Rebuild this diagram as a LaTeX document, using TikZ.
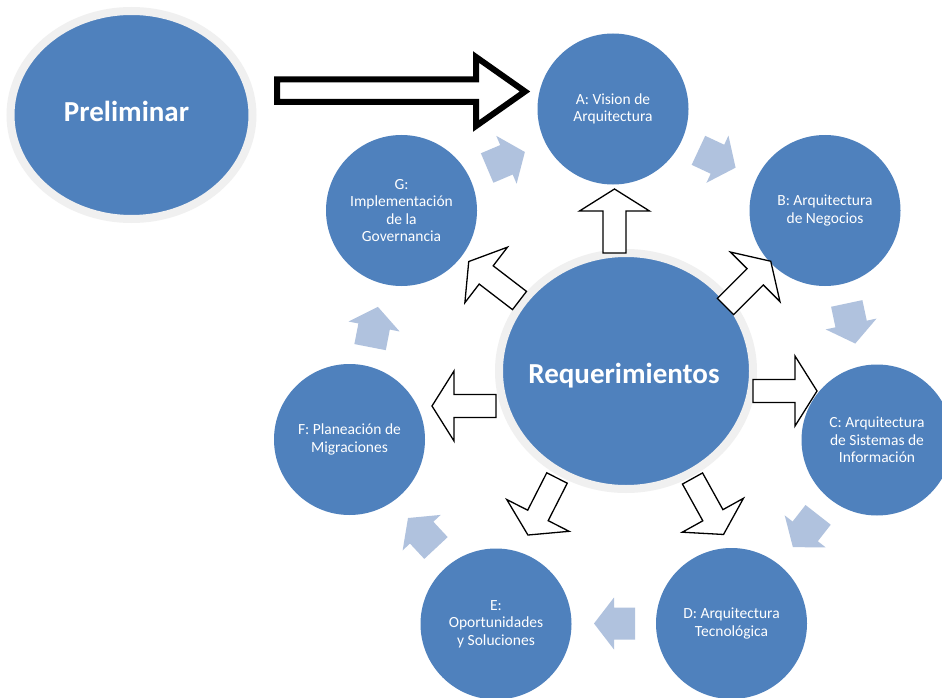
\documentclass[tikz,border=0pt]{standalone}
\usepackage{fontspec}
\setmainfont{Carlito}
\usetikzlibrary{shapes.geometric}
\definecolor{phaseblue}{HTML}{4F81BD}
\definecolor{ringgray}{HTML}{F0F0F0}
\definecolor{lightblue}{HTML}{B0C2DE}
\begin{document}
\begin{tikzpicture}[x=1pt,y=-1pt,
  phase/.style={circle, fill=phaseblue, minimum size=151pt, inner sep=0pt, text=white, align=center, font=\fontsize{15.5}{17.6}\selectfont},
  hub/.style={ellipse, fill=phaseblue, draw=ringgray, line width=8pt, inner sep=0pt},
  hubtext/.style={text=white, inner sep=0pt, font=\fontsize{29}{34}\selectfont\bfseries},
  lightarr/.pic={\fill[lightblue] (-20.5,-16) -- (0.5,-16) -- (0.5,-26) -- (20.5,0) -- (0.5,26) -- (0.5,16) -- (-20.5,16) -- cycle;},
  outarr/.pic={\filldraw[fill=white, draw=black, line width=1.3pt, line join=miter] (0,-11.5) -- (42,-11.5) -- (42,-35) -- (64,0) -- (42,35) -- (42,11.5) -- (0,11.5) -- cycle;}
]
\useasboundingbox (0,0) rectangle (942,698);
\clip (0,0) rectangle (942,698);
\fill[white] (0,0) rectangle (942,698);

% phases
\node[phase] (A) at (613,109) {A: Vision de\\Arquitectura};
\node[phase] (B) at (825,210.5) {B: Arquitectura\\de Negocios};
\node[phase] (C) at (877,440) {C: Arquitectura\\de Sistemas de\\Información};
\node[phase] (D) at (731.5,623.5) {D: Arquitectura\\Tecnológica};
\node[phase] (E) at (496,624) {E:\\Oportunidades\\y Soluciones};
\node[phase] (F) at (349.5,439.5) {F: Planeación de\\Migraciones};
\node[phase] (G) at (401.5,210.5) {G:\\Implementación\\de la\\Governancia};

% preliminar and hub
\node[hub, minimum width=242pt, minimum height=208pt] (P) at (131.5,115) {};
\node[hubtext] (Pt) at ([xshift=-5pt,yshift=4pt]P.center) {Preliminar};
\node[hub, minimum width=254pt, minimum height=236pt] (R) at (626,371) {};
\node[hubtext] (Rt) at ([xshift=-2pt,yshift=-5pt]R.center) {Requerimientos};

% big arrow Preliminar -> A
\draw[line width=6pt, line join=miter, fill=white]
  (277,79.5) -- (476,79.5) -- (476,57) -- (525,91.5) -- (476,126) -- (476,102) -- (277,102) -- cycle;

% cycle arrows
\pic[rotate=23] at (506,160) {lightarr};
\pic[rotate=-25] at (717,159) {lightarr};
\pic[rotate=-78] at (851,323.5) {lightarr};
\pic[rotate=-128] at (805.5,531) {lightarr};
\pic[rotate=180] at (614.5,623.5) {lightarr};
\pic[rotate=133] at (422,533) {lightarr};
\pic[rotate=79] at (374,327) {lightarr};

% outgoing arrows from Requerimientos
\pic[rotate=90] at (614.5,253) {outarr};
\pic[rotate=45] at (725.5,306.5) {outarr};
\pic[rotate=0] at (753,391) {outarr};
\pic[rotate=-61] at (692.5,478.5) {outarr};
\pic[rotate=-117] at (557,478) {outarr};
\pic[rotate=180] at (496,406) {outarr};
\pic[rotate=142.5] at (519.5,300.5) {outarr};
\end{tikzpicture}
\end{document}
